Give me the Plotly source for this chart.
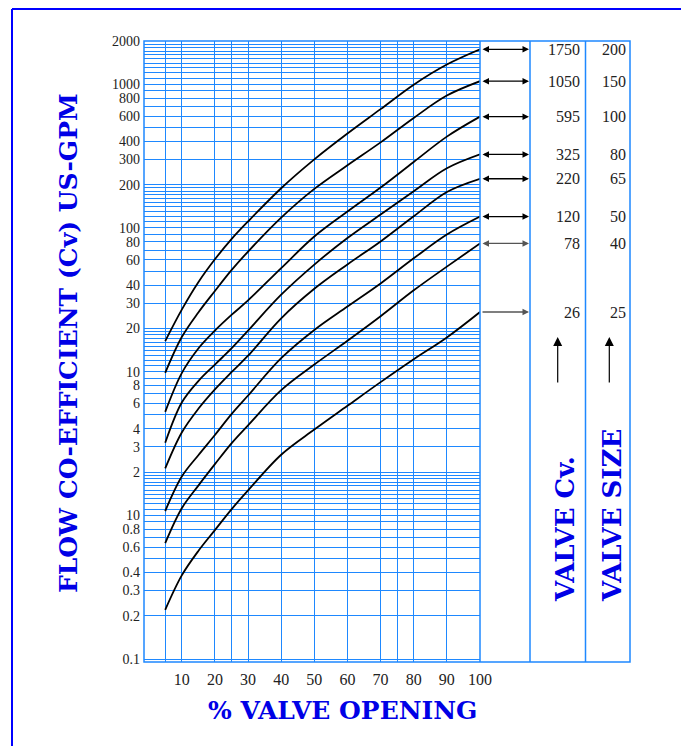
import plotly.graph_objects as go
import math

# ---------------- data ----------------
pct_open = [5, 10, 15, 20, 25, 30, 40, 50, 60, 70, 80, 90, 100]
cv_1750 = [16.3, 27, 41.9, 60.5, 83.6, 111, 189, 300, 454, 671, 993, 1371, 1750]
cv_1050 = [9.8, 17.4, 25.8, 36.4, 50.8, 68.5, 118, 187, 273, 394, 583, 834, 1050]
cv_595 = [5.25, 9.77, 14.5, 19.3, 24.8, 31.3, 52.5, 87.1, 130, 191, 288, 432, 595]
cv_325 = [3.2, 6.1, 8.6, 11.2, 14.5, 19.3, 34.3, 55.6, 85.1, 124, 180, 260, 325]
cv_220 = [2.12, 3.77, 5.51, 7.52, 9.91, 12.9, 23.5, 37.7, 55.7, 80.5, 120.5, 178, 220]
cv_120 = [1.07, 1.86, 2.62, 3.62, 5.06, 6.82, 12.4, 19.5, 28.4, 41.1, 61.5, 90, 120]
cv_78 = [0.64, 1.12, 1.61, 2.27, 3.17, 4.23, 7.43, 11.2, 16.4, 24.3, 36.8, 53.8, 78]
cv_26 = [0.22, 0.382, 0.565, 0.789, 1.10, 1.49, 2.64, 3.95, 5.78, 8.45, 12.2, 17.3, 26]

valve_cv = [1750, 1050, 595, 325, 220, 120, 78, 26]
valve_size = [200, 150, 100, 80, 65, 50, 40, 25]

x_tick_vals = [5, 10, 20, 25, 30, 40, 50, 60, 70, 75, 80, 90, 100]
x_tick_text = ["", "10", "20", "", "30", "40", "50", "60", "70", "", "80", "90", "100"]

y_label_vals = [0.1, 0.2, 0.3, 0.4, 0.6, 0.8, 1, 2, 3, 4, 6, 8, 10, 20, 30, 40, 60, 80,
                100, 200, 300, 400, 600, 800, 1000, 2000]
y_label_text = ["0.1", "0.2", "0.3", "0.4", "0.6", "0.8", "10", "2", "3", "4", "6", "8",
                "10", "20", "30", "40", "60", "80", "100", "200", "300", "400", "600",
                "800", "1000", "2000"]
grid_decades = [0.1, 1, 10, 100, 1000]
grid_mults_dense = [1, 1.1, 1.2, 1.3, 1.4, 1.5, 1.6, 1.7, 1.8, 1.9, 2, 3, 4, 5, 6, 7, 8, 9]
grid_mults_plain = [1, 2, 3, 4, 5, 6, 7, 8, 9]

# ---------------- styling ----------------
OFF = 8                      # page body margin
W, H = 689 - OFF, 746 - OFF
ML, MR, MT, MB = 144 - OFF, 59, 41 - OFF, 84
PW, PH = W - ML - MR, H - MT - MB
GRID = "rgb(30,136,255)"
BLUE = "#0000E6"
TITLE_FONT = dict(family="DejaVu Serif", size=25, color=BLUE, weight="bold")
COL_FONT = dict(family="DejaVu Serif", size=26, color=BLUE, weight="bold")
TICK_FONT = dict(family="Liberation Serif", size=16, color="#222222")
YTICK_FONT = dict(family="Liberation Serif", size=14, color="#222222")


def px_x(p):  # page pixel -> paper
    return (p - OFF - ML) / PW


def px_y(p):
    return (MT + PH - (p - OFF)) / PH


# y grid values
yvals = []
for d in grid_decades:
    mults = grid_mults_plain if d < 1 else grid_mults_dense
    for m in mults:
        v = round(d * m, 6)
        if v <= 2000:
            yvals.append(v)
yvals.append(2000)
yvals = sorted(set(yvals))
lab = {round(v, 6): t for v, t in zip(y_label_vals, y_label_text)}
ytext = [lab.get(round(v, 6), "") for v in yvals]

fig = go.Figure()
series = [cv_1750, cv_1050, cv_595, cv_325, cv_220, cv_120, cv_78, cv_26]
for s, c in zip(series, valve_cv):
    fig.add_trace(go.Scatter(x=pct_open, y=s, mode="lines", name=str(c),
                             line=dict(color="black", width=1.8, shape="spline", smoothing=1.0),
                             showlegend=False, hoverinfo="skip"))

fig.update_layout(
    width=W, height=H,
    margin=dict(l=ML, r=MR, t=MT, b=MB, pad=0),
    paper_bgcolor="white", plot_bgcolor="white",
    showlegend=False,
    xaxis=dict(domain=[0, px_x(480)], range=[-1.4, 100], tickmode="array",
               tickvals=x_tick_vals, ticktext=x_tick_text, showgrid=True,
               gridcolor=GRID, gridwidth=1, zeroline=False, showline=False,
               ticks="", tickfont=TICK_FONT, ticklabelstandoff=6),
    yaxis=dict(type="log", range=[math.log10(0.0953), math.log10(2000)], tickmode="array",
               tickvals=yvals, ticktext=ytext, showgrid=True, gridcolor=GRID,
               gridwidth=1, zeroline=False, showline=False, ticks="",
               tickfont=YTICK_FONT, ticklabelstandoff=3),
)

shapes = []
shapes.append(dict(type="rect", xref="paper", yref="paper", x0=0, y0=0, x1=1, y1=1,
                   line=dict(color=GRID, width=1.5)))
for xp in [480, 530, 585.5]:
    shapes.append(dict(type="line", xref="paper", yref="paper", x0=px_x(xp), x1=px_x(xp),
                       y0=0, y1=1, line=dict(color=GRID, width=1.5)))
# page frame
shapes.append(dict(type="line", xref="paper", yref="paper", x0=px_x(12), x1=px_x(12),
                   y0=px_y(760), y1=px_y(9), line=dict(color="#0000FF", width=2)))
shapes.append(dict(type="line", xref="paper", yref="paper", x0=px_x(12), x1=px_x(700),
                   y0=px_y(9), y1=px_y(9), line=dict(color="#0000FF", width=2)))
fig.update_layout(shapes=shapes)

ann = []
for c, s in zip(valve_cv, valve_size):
    ann.append(dict(x=px_x(529), y=math.log10(c), xref="paper", yref="y", text="",
                    showarrow=True, ax=-48, ay=0, axref="pixel", ayref="pixel",
                    arrowhead=2, arrowsize=1.0, arrowwidth=1.3,
                    arrowside="end" if c == 26 else "end+start",
                    arrowcolor="#555555" if c in (26, 78) else "black"))
    ann.append(dict(x=px_x(582), y=math.log10(c), xref="paper", yref="y", text=str(c),
                    showarrow=False, xanchor="right", yanchor="middle", font=TICK_FONT))
    ann.append(dict(x=px_x(628), y=math.log10(c), xref="paper", yref="y", text=str(s),
                    showarrow=False, xanchor="right", yanchor="middle", font=TICK_FONT))
for xp in [557.7, 609.3]:
    ann.append(dict(x=px_x(xp), y=px_y(337), xref="paper", yref="paper", text="",
                    showarrow=True, ax=0, ay=47, arrowhead=2, arrowsize=1.5,
                    arrowwidth=1.2, arrowcolor="black"))
ann.append(dict(x=px_x(68), y=px_y(343), xref="paper", yref="paper",
                text="FLOW CO-EFFICIENT (Cv) US-GPM", textangle=-90, showarrow=False,
                xanchor="center", yanchor="middle", font=TITLE_FONT))
ann.append(dict(x=px_x(342), y=px_y(711), xref="paper", yref="paper",
                text="% VALVE OPENING", showarrow=False, xanchor="center",
                yanchor="middle", font=TITLE_FONT))
ann.append(dict(x=px_x(565), y=px_y(604), xref="paper", yref="paper", text="VALVE Cv.",
                textangle=-90, showarrow=False, xanchor="center", yanchor="bottom",
                font=COL_FONT))
ann.append(dict(x=px_x(611.5), y=px_y(604), xref="paper", yref="paper", text="VALVE SIZE",
                textangle=-90, showarrow=False, xanchor="center", yanchor="bottom",
                font=COL_FONT))
fig.update_layout(annotations=ann)

fig.write_html("out.html")
